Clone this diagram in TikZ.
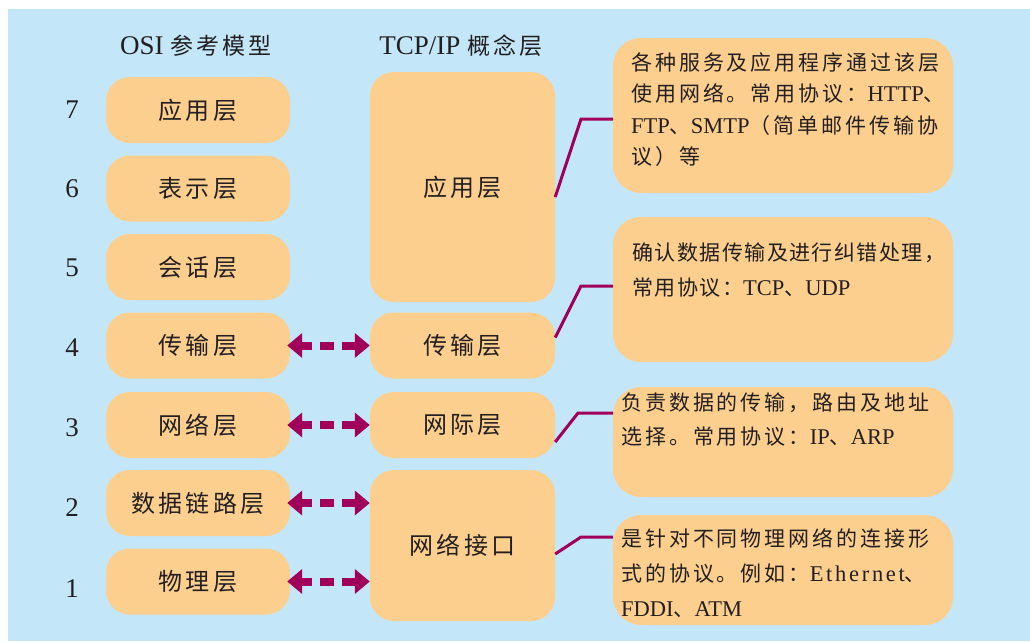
\documentclass[tikz,border=0pt]{standalone}
\usepackage{fontspec}
\setmainfont{Liberation Serif}
\newfontfamily\cjk{Noto Sans CJK SC}[LetterSpace=14]
\newfontfamily\cjkB{Noto Sans CJK SC}[LetterSpace=7]
\newfontfamily\rmspaced{Liberation Serif}[LetterSpace=12]
\newcommand\lt[1]{{\fontsize{22.5}{31.5}\rmfamily #1}}
\newcommand\lth[1]{{\fontsize{27}{31}\rmfamily #1}}
\usetikzlibrary{arrows.meta}
\definecolor{bgblue}{HTML}{C3E7F9}
\definecolor{boxor}{HTML}{FDCF8E}
\definecolor{mag}{HTML}{A0005A}
\definecolor{ink}{HTML}{231F20}
\begin{document}
\begin{tikzpicture}[x=1pt,y=-1pt,
  osibox/.style={fill=boxor, rounded corners=24pt, minimum width=184pt, minimum height=66pt, inner sep=0pt, font=\fontsize{24}{28}\cjk, text=ink},
  tcpbox/.style={osibox, minimum width=185pt},
  descbox/.style={fill=boxor, rounded corners=28pt, minimum width=340pt, inner sep=0pt},
  desctext/.style={anchor=north west, inner sep=0pt, align=left, text=ink},
  num/.style={font=\fontsize{27}{30}\selectfont, text=ink, inner sep=0pt},
  heading/.style={font=\fontsize{23}{28}\cjk, text=ink, inner sep=0pt},
  dbl/.style={draw=mag, line width=8pt, {Triangle[length=15pt,width=24pt]}-{Triangle[length=15pt,width=24pt]}, dash pattern=on 11pt off 8pt on 14pt off 8pt on 20pt, shorten <=-3pt},
  conn/.style={draw=mag, line width=3pt}
]
\useasboundingbox (0,0) rectangle (1030,641);
\fill[bgblue] (8,9) rectangle (1030,641);

% headings
\node[heading] (h1) at (196,46) {\lth{OSI }参考模型};
\node[heading] (h2) at (461,46) {\lth{TCP/IP }概念层};

% numbers
\node[num] (n7) at (72,110) {7};
\node[num] (n6) at (72,189) {6};
\node[num] (n5) at (72,268) {5};
\node[num] (n4) at (72,348) {4};
\node[num] (n3) at (72,428) {3};
\node[num] (n2) at (72,508) {2};
\node[num] (n1) at (72,589) {1};

% OSI boxes
\node[osibox] (osi7) at (198,110) {应用层};
\node[osibox] (osi6) at (198,188.5) {表示层};
\node[osibox] (osi5) at (198,267) {会话层};
\node[osibox] (osi4) at (198,345.5) {传输层};
\node[osibox] (osi3) at (198,425) {网络层};
\node[osibox] (osi2) at (198,503) {数据链路层};
\node[osibox] (osi1) at (198,581.5) {物理层};

% TCP/IP boxes
\node[tcpbox, minimum height=230pt] (tapp) at (462.5,187) {应用层};
\node[tcpbox] (ttrans) at (462.5,345.5) {传输层};
\node[tcpbox] (tinet) at (462.5,425) {网际层};
\node[tcpbox, minimum height=151pt] (tnet) at (462.5,545.5) {网络接口};

% arrows
\draw[dbl] (osi4.east) -- (osi4.east -| ttrans.west);
\draw[dbl] (osi3.east) -- (osi3.east -| tinet.west);
\draw[dbl] (osi2.east) -- (osi2.east -| tnet.west);
\draw[dbl] (osi1.east) -- (osi1.east -| tnet.west);

% description boxes
\node[descbox, minimum height=155pt] (d1) at (783,115.5) {};
\node[descbox, minimum height=145pt] (d2) at (783,289.5) {};
\node[descbox, minimum height=110pt] (d3) at (783,442) {};
\node[descbox, minimum height=110pt] (d4) at (783,570) {};

\node[desctext, font=\fontsize{21}{31.5}\cjk] (t1) at (631,52)
  {各种服务及应用程序通过该层\\使用网络。常用协议：\lt{HTTP}、\\\lt{FTP}、\lt{SMTP}（简单邮件传输协\\议）等};
\node[desctext, font=\fontsize{21}{35}\cjkB] (t2) at (632,243)
  {确认数据传输及进行纠错处理，\\常用协议：\lt{TCP}、\lt{UDP}};
\node[desctext, font=\fontsize{21}{34}\cjk] (t3) at (621,393)
  {负责数据的传输，路由及地址\\选择。常用协议：\lt{IP}、\lt{ARP}};
\node[desctext, font=\fontsize{21}{35}\cjk] (t4) at (621,528)
  {是针对不同物理网络的连接形\\式的协议。例如：{\fontsize{22.5}{35}\rmspaced Ethernet}、\\\lt{FDDI}、\lt{ATM}};

% connectors
\coordinate (k1) at (581,119);
\coordinate (k2) at (581,286);
\coordinate (k3) at (578,413);
\coordinate (k4) at (581,537);
\draw[conn] ([yshift=-10pt]tapp.east) -- (k1) -- (k1 -| d1.west);
\draw[conn] ([yshift=8pt]ttrans.east) -- (k2) -- (k2 -| d2.west);
\draw[conn] ([yshift=-17pt]tinet.east) -- (k3) -- (k3 -| d3.west);
\draw[conn] ([yshift=-8.5pt]tnet.east) -- (k4) -- (k4 -| d4.west);
\end{tikzpicture}
\end{document}
